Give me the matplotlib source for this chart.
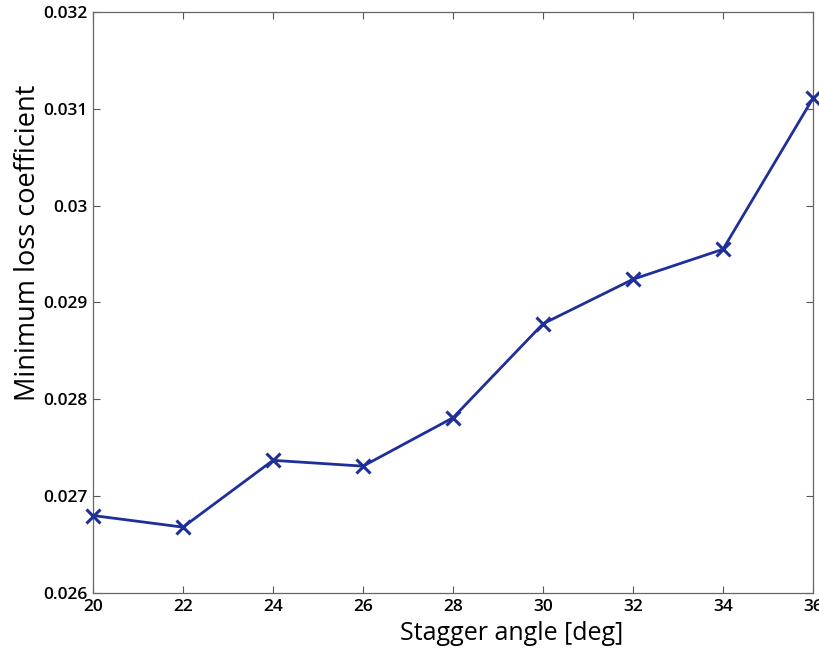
import matplotlib
matplotlib.use("Agg")
import matplotlib.pyplot as plt

stagger_angle = [20, 22, 24, 26, 28, 30, 32, 34, 36]
min_loss = [0.02680, 0.02668, 0.02737, 0.02731, 0.02781, 0.02878, 0.02924, 0.02955, 0.03111]
xticks = [20, 22, 24, 26, 28, 30, 32, 34, 36]
yticks = [0.026, 0.027, 0.028, 0.029, 0.030, 0.031, 0.032]
ytick_labels = ["0.026", "0.027", "0.028", "0.029", "0.03", "0.031", "0.032"]

plt.rcParams['font.family'] = ['Open Sans', 'DejaVu Sans']

fig = plt.figure(figsize=(8.2, 6.52), dpi=100)
ax = fig.add_axes([0.1134, 0.0905, 0.8781, 0.8911])
ax.plot(stagger_angle, min_loss, color='#1f2f9a', linewidth=2.0, marker='x',
        markersize=10, markeredgewidth=2.2, clip_on=False, zorder=3)
ax.set_xlim(20, 36)
ax.set_ylim(0.026, 0.032)
ax.set_xticks(xticks)
ax.set_xticklabels([str(v) for v in xticks])
ax.set_yticks(yticks)
ax.set_yticklabels(ytick_labels)
ax.tick_params(direction='in', length=5, width=0.8, color='#555555',
               labelsize=12.5, top=True, right=True, pad=4)
for lab in ax.get_xticklabels() + ax.get_yticklabels():
    lab.set_fontweight('semibold')
for s in ax.spines.values():
    s.set_color('#666666')
    s.set_linewidth(0.9)
ax.set_xlabel('Stagger angle [deg]', fontsize=18, va='center')
ax.xaxis.set_label_coords((512 - 93) / 720, (593 - 634) / 581)
ax.set_ylabel('Minimum loss coefficient', fontsize=19.5, va='center')
ax.yaxis.set_label_coords((28 - 93) / 720, (593 - 243) / 581)
fig.savefig('out.png', dpi=100)
